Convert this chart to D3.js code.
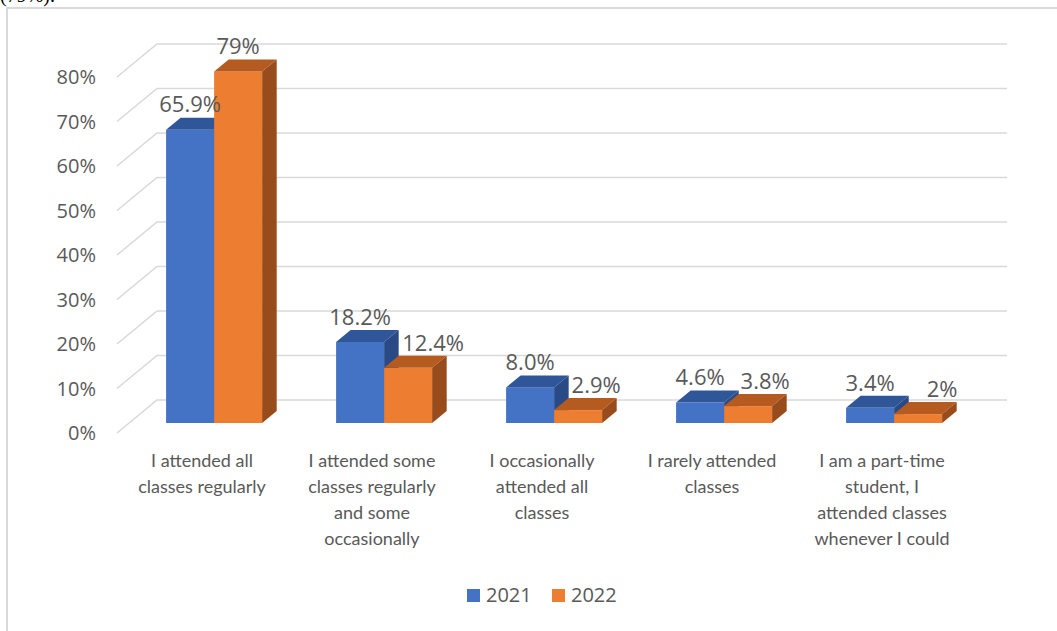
<!DOCTYPE html>
<html>
<head>
<meta charset="utf-8">
<script src="https://cdn.jsdelivr.net/npm/d3@7/dist/d3.min.js"></script>
<style>
  html, body { margin: 0; padding: 0; background: #fff; }
  svg { display: block; }
</style>
</head>
<body>
<svg id="chart" width="1057" height="631"></svg>
<script>
// Class attendance by response, 2021 vs 2022 (share of respondents, %)
const categories = [
  "I attended all\nclasses regularly",
  "I attended some\nclasses regularly\nand some\noccasionally",
  "I occasionally\nattended all\nclasses",
  "I rarely attended\nclasses",
  "I am a part-time\nstudent, I\nattended classes\nwhenever I could"
];
const seriesNames = ["2021", "2022"];
const values2021 = [65.9, 18.2, 8.0, 4.6, 3.4];
const values2022 = [79, 12.4, 2.9, 3.8, 2];
const labels2021 = ["65.9%", "18.2%", "8.0%", "4.6%", "3.4%"];
const labels2022 = ["79%", "12.4%", "2.9%", "3.8%", "2%"];
const tickValues = [0, 10, 20, 30, 40, 50, 60, 70, 80];

// horizontal nudge of the 2022 value labels so they clear the 2021 ones
const labelShift2022 = [0, 25, 18, 17, 24];

const series = [
  { name: seriesNames[0], values: values2021, labels: labels2021,
    front: "#4472C4", top: "#30569A", side: "#2A4A86" },
  { name: seriesNames[1], values: values2022, labels: labels2022,
    front: "#ED7D31", top: "#B65B20", side: "#984B1B" }
];

const svg = d3.select("#chart");
const gridColor = "#d9d9d9";
const textColor = "#595959";

// surrounding document fragment and chart frame
svg.append("text").attr("x", 0).attr("y", 2)
  .attr("font-family", "Liberation Serif, serif").attr("font-size", 20)
  .attr("fill", "#000").text("(79%).");
svg.append("path").attr("d", "M7,631V8H1057")
  .attr("fill", "none").attr("stroke", gridColor).attr("stroke-width", 2);

// back wall scales
const y = d3.scaleLinear().domain([0, 80]).range([400, 44]);
const x = d3.scaleBand().domain(d3.range(categories.length))
  .range([157, 1007]).paddingInner(0.435).paddingOuter(0.2175);
const xs = d3.scaleBand().domain(d3.range(series.length))
  .range([0, x.bandwidth()]);

// depth projection: full floor depth, and the plane the bar faces sit on
const floorDX = -40, floorDY = 33;
const frontT = 23 / 33;         // bar front face position within the depth
const backT = 11 / 33;          // bar back face position within the depth
const fdx = floorDX * frontT, fdy = floorDY * frontT;
const bdx = floorDX * backT, bdy = floorDY * backT;

// gridlines: back wall line plus the diagonal on the side wall
const grid = svg.append("g").attr("fill", "none")
  .attr("stroke", gridColor).attr("stroke-width", 1.6);
tickValues.forEach(t => {
  const yb = y(t);
  grid.append("path")
    .attr("d", `M${157 + floorDX},${yb + floorDY}L157,${yb}H1007`);
});

// y tick labels
svg.append("g").selectAll("text").data(tickValues).join("text")
  .attr("x", 96).attr("y", d => y(d) + floorDY)
  .attr("dy", "0.35em").attr("text-anchor", "end")
  .attr("font-family", "Open Sans, sans-serif").attr("font-size", 20)
  .attr("fill", textColor).text(d => d + "%");

// 3D bars
const bars = svg.append("g");
categories.forEach((c, i) => {
  series.forEach((s, j) => {
    const v = s.values[i];
    const xb = x(i) + xs(j);
    const w = xs.bandwidth();
    const x0 = xb + fdx, x1 = x0 + w;
    const yTop = y(v) + fdy, yBot = y(0) + fdy;
    const ddx = fdx - bdx, ddy = fdy - bdy; // depth of the bar
    bars.append("rect").attr("x", x0).attr("y", yTop)
      .attr("width", w).attr("height", yBot - yTop).attr("fill", s.front);
    bars.append("path").attr("fill", s.top)
      .attr("d", `M${x0},${yTop}L${x0 - ddx},${yTop - ddy}L${x1 - ddx},${yTop - ddy}L${x1},${yTop}Z`);
    bars.append("path").attr("fill", s.side)
      .attr("d", `M${x1},${yTop}L${x1 - ddx},${yTop - ddy}L${x1 - ddx},${yBot - ddy}L${x1},${yBot}Z`);
  });
});

// value labels above each bar
const vlabels = svg.append("g")
  .attr("font-family", "Open Sans, sans-serif").attr("font-size", 22)
  .attr("fill", textColor).attr("text-anchor", "middle");
categories.forEach((c, i) => {
  series.forEach((s, j) => {
    const v = s.values[i];
    const cx = x(i) + xs(j) + xs.bandwidth() / 2 + fdx + (j === 1 ? labelShift2022[i] : 0);
    const cy = y(v) + bdy - 13;
    vlabels.append("text").attr("x", cx).attr("y", cy)
      .attr("dy", "0.35em").text(s.labels[i]);
  });
});

// category labels along the front floor edge
const clabels = svg.append("g")
  .attr("font-family", "Lato, sans-serif").attr("font-size", 18)
  .attr("fill", textColor).attr("text-anchor", "middle");
categories.forEach((c, i) => {
  const cx = x(i) + x.bandwidth() / 2 + floorDX;
  const t = clabels.append("text").attr("x", cx).attr("y", 467);
  c.split("\n").forEach((line, k) => {
    t.append("tspan").attr("x", cx).attr("dy", k === 0 ? 0 : 26).text(line);
  });
});

// legend
const legend = svg.append("g")
  .attr("font-family", "Open Sans, sans-serif").attr("font-size", 20)
  .attr("fill", textColor);
const legendX = [467, 552];
series.forEach((s, j) => {
  legend.append("rect").attr("x", legendX[j]).attr("y", 589)
    .attr("width", 13).attr("height", 13).attr("fill", s.front);
  legend.append("text").attr("x", legendX[j] + 19).attr("y", 595)
    .attr("dy", "0.35em").text(s.name);
});
</script>
</body>
</html>
